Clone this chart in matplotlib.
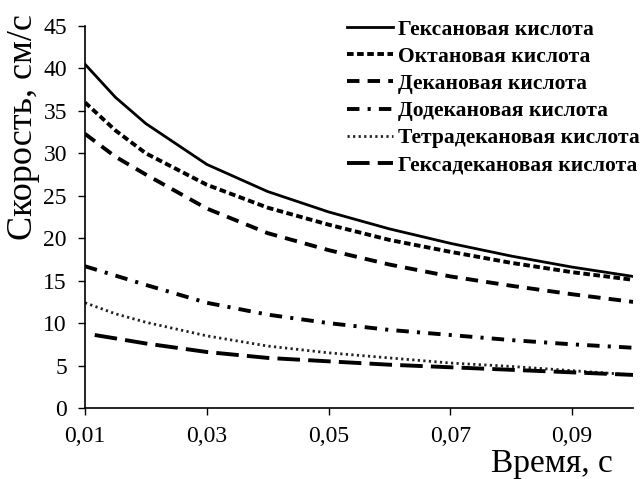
# Графики скорости для разных кислот
import matplotlib.pyplot as plt

# Время, с
t = [0.01, 0.015, 0.02, 0.03, 0.04, 0.05, 0.06, 0.07, 0.08, 0.09, 0.1]
t_hexadec = [0.0116, 0.015, 0.02, 0.03, 0.04, 0.05, 0.06, 0.07, 0.08, 0.09, 0.1]

# Скорость, см/с
hexanoic = [40.5, 36.6, 33.5, 28.7, 25.5, 23.1, 21.1, 19.4, 17.9, 16.6, 15.5]
octanoic = [36.0, 32.7, 30.0, 26.3, 23.6, 21.6, 19.8, 18.4, 17.1, 16.0, 15.1]
decanoic = [32.3, 29.6, 27.5, 23.5, 20.6, 18.6, 16.9, 15.5, 14.4, 13.4, 12.5]
dodecanoic = [16.7, 15.6, 14.5, 12.4, 11.0, 10.0, 9.2, 8.6, 8.0, 7.5, 7.1]
tetradecanoic = [12.4, 11.1, 10.1, 8.5, 7.3, 6.5, 5.9, 5.3, 4.9, 4.4, 3.9]
hexadecanoic = [8.6, 8.2, 7.6, 6.6, 5.9, 5.5, 5.1, 4.8, 4.5, 4.2, 3.9]

names = ['Гексановая кислота', 'Октановая кислота', 'Декановая кислота',
         'Додекановая кислота', 'Тетрадекановая кислота', 'Гексадекановая кислота']

x_ticks = [0.01, 0.03, 0.05, 0.07, 0.09]
x_labels = ['0,01', '0,03', '0,05', '0,07', '0,09']
y_ticks = [0, 5, 10, 15, 20, 25, 30, 35, 40, 45]

plt.rcParams['font.family'] = 'Liberation Serif'

fig = plt.figure(figsize=(6.41, 4.79), dpi=100)
ax = fig.add_axes([0.1326, 0.1482, 0.855, 0.7975])

ax.plot(t, hexanoic, color='black', lw=2.0, ls='-', label=names[0])
ax.plot(t, octanoic, color='black', lw=2.8, ls=(0, (1.7, 0.9)), label=names[1])
ax.plot(t, decanoic, color='black', lw=2.8, ls=(0, (3.2, 2.1)), label=names[2])
ax.plot(t, dodecanoic, color='black', lw=2.8, ls=(0, (3.2, 2.1, 0.8, 2.1)), label=names[3])
ax.plot(t, tetradecanoic, color='#222222', lw=2.0, ls=(0, (0.8, 1.2)), label=names[4])
ax.plot(t_hexadec, hexadecanoic, color='black', lw=2.8, ls=(0, (5.8, 2.1)), label=names[5])

ax.set_xlim(0.01, 0.1)
ax.set_ylim(0, 45)
ax.set_xticks(x_ticks)
ax.set_xticklabels(x_labels)
ax.set_yticks(y_ticks)
ax.tick_params(labelsize=17, direction='out', length=5, width=1)
ax.tick_params(axis='x', pad=8)
ax.tick_params(axis='y', pad=8)

for s in ['top', 'right']:
    ax.spines[s].set_visible(False)
for s in ['left', 'bottom']:
    ax.spines[s].set_linewidth(1.2)

ax.set_ylabel('Скорость, см/с', fontsize=26)
ax.yaxis.set_label_coords(-0.082, 1.03)
ax.yaxis.label.set_ha('right')

ax.set_xlabel('Время, с', fontsize=24)
ax.xaxis.set_label_coords(0.9635, -0.168)
ax.xaxis.label.set_ha('right')
ax.xaxis.label.set_va('baseline')

ax.legend(loc='upper left', bbox_to_anchor=(0.478, 1.017), frameon=False,
          prop={'weight': 'bold', 'size': 15.5}, handlelength=2.15,
          handletextpad=0.2, labelspacing=0.33, borderpad=0, borderaxespad=0)

plt.savefig('out.png', dpi=100)
